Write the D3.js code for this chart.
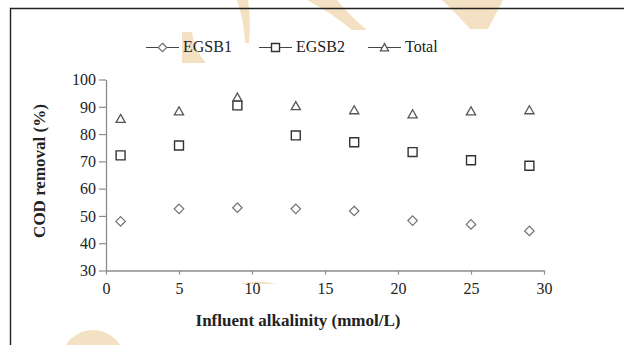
<!DOCTYPE html>
<html>
<head>
<meta charset="utf-8">
<script src="https://cdn.jsdelivr.net/npm/d3@7/dist/d3.min.js"></script>
<style>
  html, body { margin: 0; padding: 0; background: #fff; }
  svg { display: block; }
  text { font-family: "Liberation Serif", "Times New Roman", serif; fill: #222; }
</style>
</head>
<body>
<svg id="chart" width="624" height="345"></svg>
<script>
// Influent alkalinity (mmol/L)
const alkalinity = [1, 5, 9, 13, 17, 21, 25, 29];
// COD removal (%)
const egsb1 = [48.0, 52.6, 53.0, 52.6, 51.8, 48.3, 46.9, 44.5];
const egsb2 = [72.2, 75.8, 90.5, 79.5, 77.0, 73.4, 70.4, 68.4];
const total = [85.6, 88.4, 93.4, 90.3, 88.8, 87.3, 88.4, 88.8];
const seriesNames = ["EGSB1", "EGSB2", "Total"];
const xTicks = [0, 5, 10, 15, 20, 25, 30];
const yTicks = [30, 40, 50, 60, 70, 80, 90, 100];

const svg = d3.select("#chart");

// Pale decorative logo shapes in the background
const logo = svg.append("g").attr("fill", "#f4e1c3").attr("stroke", "none");
[
  "M237,0 L248,0 Q251,20 249,43 L245,43 Q244,20 237,0 Z",
  "M182,32 L192,32 Q194,50 206,63 L182,63 Z",
  "M307,0 L337,0 Q352,18 367,30 L352,30 Q330,12 307,0 Z",
  "M442,0 L503,0 L488,29 L470,29 Q455,12 442,0 Z",
  "M240,284 Q258,279.5 277,284 Z"
].forEach(d => logo.append("path").attr("d", d));
logo.append("circle").attr("cx", 93).attr("cy", 362).attr("r", 32);

// Outer frame (opens to the right and bottom)
svg.append("path")
  .attr("d", "M10.5,345 L10.5,8.5 L624,8.5")
  .attr("fill", "none").attr("stroke", "#222").attr("stroke-width", 1.4);

const x = d3.scaleLinear().domain([0, 30]).range([106, 544]);
const y = d3.scaleLinear().domain([30, 100]).range([270.5, 79.5]);

// Marker shapes
const diamondType = { draw(ctx, size) { const r = Math.sqrt(size) / 2;
  ctx.moveTo(0, -r); ctx.lineTo(r, 0); ctx.lineTo(0, r); ctx.lineTo(-r, 0); ctx.closePath(); } };
const squareType = { draw(ctx, size) { const r = Math.sqrt(size) / 2;
  ctx.rect(-r, -r, 2 * r, 2 * r); } };
const triangleType = { draw(ctx, size) { const r = Math.sqrt(size) / 2;
  ctx.moveTo(0, -r * 0.95); ctx.lineTo(r, r * 0.8); ctx.lineTo(-r, r * 0.8); ctx.closePath(); } };

const styles = [
  { type: diamondType, size: 90, stroke: "#707070", width: 1.2 },
  { type: squareType, size: 80, stroke: "#333", width: 1.4 },
  { type: triangleType, size: 84, stroke: "#555", width: 1.3 }
];
const seriesValues = [egsb1, egsb2, total];

// Axes
const axisColor = "#8c8c8c";
const yAxis = svg.append("g").attr("transform", `translate(${x(0)},0)`)
  .call(d3.axisLeft(y).tickValues(yTicks).tickSize(7).tickSizeOuter(0).tickPadding(3));
const xAxis = svg.append("g").attr("transform", `translate(0,${y(30)})`)
  .call(d3.axisBottom(x).tickValues(xTicks).tickSize(4).tickSizeOuter(0).tickPadding(8));
[xAxis, yAxis].forEach(g => {
  g.select(".domain").attr("stroke", axisColor).attr("stroke-width", 1.3);
  g.selectAll(".tick line").attr("stroke", axisColor).attr("stroke-width", 1.2);
  g.selectAll("text").attr("font-size", 16).attr("fill", "#222")
    .style("font-family", '"Liberation Serif", "Times New Roman", serif');
});
yAxis.selectAll("text").attr("dy", "0.33em");

// Data markers
seriesValues.forEach((vals, i) => {
  const st = styles[i];
  const sym = d3.symbol().type(st.type).size(st.size);
  svg.append("g").selectAll("path")
    .data(alkalinity.map((a, j) => [a, vals[j]]))
    .join("path")
    .attr("d", sym)
    .attr("transform", d => `translate(${x(d[0])},${y(d[1])})`)
    .attr("fill", "none")
    .attr("stroke", st.stroke)
    .attr("stroke-width", st.width);
});

// Legend
const legendX = [146, 259, 368];
const legendY = 47.5;
seriesNames.forEach((name, i) => {
  const st = styles[i];
  const g = svg.append("g").attr("transform", `translate(${legendX[i]},${legendY})`);
  g.append("line").attr("x1", 0).attr("x2", 33).attr("y1", 0).attr("y2", 0)
    .attr("stroke", "#444").attr("stroke-width", 1.2);
  g.append("path").attr("d", d3.symbol().type(st.type).size(st.size * 0.8)())
    .attr("transform", "translate(16.5,0)")
    .attr("fill", "#fff").attr("stroke", st.stroke).attr("stroke-width", st.width);
  g.append("text").attr("x", 37).attr("y", 4.5).attr("font-size", 16).text(name);
});

// Axis titles
svg.append("text")
  .attr("x", 298).attr("y", 326)
  .attr("text-anchor", "middle").attr("font-size", 17).attr("font-weight", "bold")
  .text("Influent alkalinity (mmol/L)");
svg.append("text")
  .attr("transform", "translate(45,171) rotate(-90)")
  .attr("text-anchor", "middle").attr("font-size", 17).attr("font-weight", "bold")
  .text("COD removal (%)");
</script>
</body>
</html>
